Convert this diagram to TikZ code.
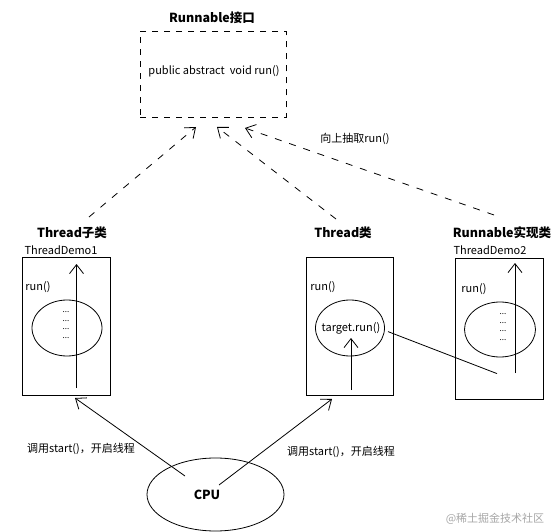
\documentclass[tikz,border=0pt]{standalone}
\usepackage{fontspec}
\setmainfont{Noto Sans CJK SC}
\usetikzlibrary{arrows.meta, shapes.geometric}

\begin{document}
\begin{tikzpicture}[x=1pt, y=-1pt, line width=0.8pt,
    every node/.style={inner sep=0pt, font=\fontsize{11}{12}\selectfont},
    ttl/.style={font=\bfseries\fontsize{12.5}{14}\selectfont},
    box/.style={draw, rectangle, minimum width=#1, minimum height=138pt},
    oval/.style={draw, ellipse, minimum width=70pt, minimum height=56pt},
    barb/.style={-{Straight Barb[length=9pt, width=14pt, line width=0.8pt]}},
    dashbarb/.style={barb, dash pattern=on 7pt off 8pt},
    dots/.style={align=center, font=\fontsize{8}{8.5}\selectfont}]
    \useasboundingbox (0,0) rectangle (560,532);
    % interface
    \node[ttl] (title) at (212,18) {Runnable接口};
    \node[draw, dash pattern=on 6pt off 6pt, minimum width=146pt, minimum height=86pt] (iface) at (213,74.5) {};
    \node (sig) at (214,71) {public abstract\ \ void run()};
    \node (pull) at (355,139) {向上抽取run()};
    % the three classes
    \node[ttl] (sub) at (72,233) {Thread子类};
    \node[ttl] (thr) at (343,233) {Thread类};
    \node[ttl] (impl) at (502,233) {Runnable实现类};
    \coordinate (s1) at (89,217); \coordinate (e1) at (196,127);
    \coordinate (s2) at (336,219); \coordinate (e2) at (217,127);
    \coordinate (s3) at (494,215); \coordinate (e3) at (245,128);
    \draw[dashbarb] (s1) -- (e1);
    \draw[dashbarb] (s2) -- (e2);
    \draw[dashbarb] (s3) -- (e3);
    % ThreadDemo1
    \node (demo1) at (61,250) {ThreadDemo1};
    \node[box=87.4pt] (b1) at (66.3,326) {};
    \node (run1) at (38,287) {run()};
    \node[oval] (o1) at (67,328) {};
    \node[dots] (d1) at (66,325) {...\\...\\...\\...};
    \coordinate (t1s) at (76.5,388); \coordinate (t1e) at (76.5,264);
    \draw[barb] (t1s) -- (t1e);
    % Thread
    \node[box=87pt] (b2) at (349.5,326) {};
    \node (run2) at (323,287) {run()};
    \node[oval, minimum width=69pt] (o2) at (350,328) {};
    \node (target) at (351,328) {target.run()};
    \coordinate (t2s) at (351,390); \coordinate (t2e) at (351,338);
    \draw[barb] (t2s) -- (t2e);
    % ThreadDemo2
    \node (demo2) at (490,250) {ThreadDemo2};
    \node[box=88pt, minimum height=141pt] (b3) at (499,328.5) {};
    \node (run3) at (474,289) {run()};
    \node[oval, minimum width=71pt, minimum height=55pt] (o3) at (500,329.5) {};
    \node[dots] (d3) at (503,327) {...\\...\\...\\...};
    \coordinate (t3s) at (515,373); \coordinate (t3e) at (515,263);
    \draw[barb] (t3s) -- (t3e);
    \coordinate (c1) at (388,331.6); \coordinate (c2) at (497,373.6);
    \draw (c1) -- (c2);
    % cpu
    \node[draw, ellipse, minimum width=137pt, minimum height=73pt] (cpu) at (215.5,494.5) {};
    \node[ttl] (cpulbl) at (207,495) {CPU};
    \coordinate (p1) at (185,476); \coordinate (q1) at (75,398);
    \coordinate (p2) at (219,485); \coordinate (q2) at (332,399);
    \draw[barb] (p1) -- (q1);
    \draw[barb] (p2) -- (q2);
    \node (call1) at (81,449) {调用start()，开启线程};
    \node (call2) at (341,452) {调用start()，开启线程};
    \node[text=black!35] (mark) at (495,519) {@稀土掘金技术社区};
\end{tikzpicture}
\end{document}
